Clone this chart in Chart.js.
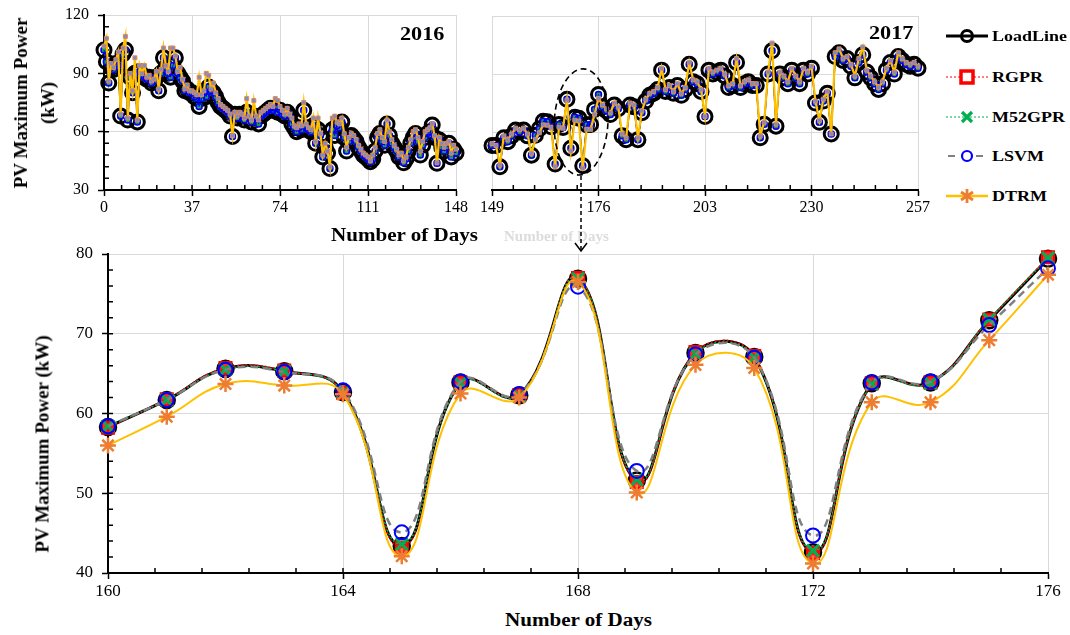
<!DOCTYPE html>
<html>
<head>
<meta charset="utf-8">
<title>PV Maximum Power</title>
<script src="https://cdn.jsdelivr.net/npm/chart.js@4.4.1/dist/chart.umd.min.js"></script>
<style>
  body { margin: 0; width: 1070px; height: 635px; position: relative; overflow: hidden; background: #fff;
         font-family: "Liberation Serif", "Times New Roman", serif; color: #000; }
  canvas { position: absolute; }
  .txt { position: absolute; font-weight: bold; white-space: nowrap; line-height: 20px; }
  .wide { transform: scaleX(1.17); transform-origin: left center; }
  .ytitle { position: absolute; font-weight: bold; font-size: 19px; line-height: 27px; text-align: center;
            white-space: nowrap; transform: translate(-50%, -50%) rotate(-90deg); }
  .legend { position: absolute; left: 944px; top: 0; }
  .legend .row { position: absolute; left: 0; height: 22px; width: 126px; }
  .legend svg { position: absolute; left: 0; top: 0; }
  .legend span { position: absolute; left: 48px; top: 1px; font-weight: bold; font-size: 15px; line-height: 20px;
                 transform: scaleX(1.2); transform-origin: left center; }
  #overlay { position: absolute; left: 0; top: 0; pointer-events: none; }
</style>
</head>
<body>

<canvas id="c2016" width="470" height="215" style="left:0;top:0"></canvas>
<canvas id="c2017" width="464" height="215" style="left:470px;top:0"></canvas>
<canvas id="cZoom" width="1064" height="360" style="left:0;top:240px"></canvas>

<div class="ytitle" style="left:34px;top:103px">PV Maximum Power<br>(kW)</div>
<div class="ytitle" style="left:42px;top:444px">PV Maximum Power (kW)</div>

<div class="txt wide" style="left:400px;top:24px;font-size:19px">2016</div>
<div class="txt wide" style="left:869px;top:23px;font-size:19px">2017</div>
<div class="txt wide" style="left:331px;top:225px;font-size:18px">Number of Days</div>
<div class="txt" style="left:504px;top:226px;font-size:15px;color:#dcdcdc">Number of Days</div>
<div class="txt wide" style="left:505px;top:610px;font-size:18px">Number of Days</div>

<div class="legend">
  <div class="row" style="top:25px">
    <svg width="46" height="22"><line x1="2" y1="11" x2="44" y2="11" stroke="#000" stroke-width="3"/>
      <circle cx="23" cy="11" r="5.5" fill="none" stroke="#000" stroke-width="3"/></svg>
    <span>LoadLine</span></div>
  <div class="row" style="top:66px">
    <svg width="46" height="22"><line x1="2" y1="11" x2="44" y2="11" stroke="#ff0000" stroke-width="1.2" stroke-dasharray="2,2"/>
      <rect x="17" y="5" width="12" height="12" fill="#fff" stroke="#ff0000" stroke-width="3.5"/></svg>
    <span>RGPR</span></div>
  <div class="row" style="top:106px">
    <svg width="46" height="22"><line x1="2" y1="11" x2="44" y2="11" stroke="#00b050" stroke-width="1.2" stroke-dasharray="2,2"/>
      <path d="M18 6 L28 16 M28 6 L18 16" stroke="#00b050" stroke-width="3.2"/></svg>
    <span>M52GPR</span></div>
  <div class="row" style="top:145px">
    <svg width="46" height="22"><line x1="2" y1="11" x2="44" y2="11" stroke="#808080" stroke-width="2" stroke-dasharray="7,7" stroke-dashoffset="-2"/>
      <circle cx="23" cy="11" r="5" fill="#fff" stroke="#0000ff" stroke-width="2.2"/></svg>
    <span>LSVM</span></div>
  <div class="row" style="top:185px">
    <svg width="46" height="22"><line x1="2" y1="11" x2="44" y2="11" stroke="#ffc000" stroke-width="2.5"/>
      <path d="M23 4 L23 18 M17 7 L29 15 M29 7 L17 15" stroke="#ed7d31" stroke-width="2.8"/></svg>
    <span>DTRM</span></div>
</div>

<svg id="overlay" width="1070" height="635">
  <line x1="581" y1="176" x2="581" y2="251" stroke="#000" stroke-width="1.5" stroke-dasharray="4,3"/>
  <polyline points="575,243 581,251 587,243" fill="none" stroke="#000" stroke-width="1.5"/>
</svg>

<script>
// ---------- data ----------
const FIRST_DAY_2016 = 0;
const FIRST_DAY_2017 = 149;

const DAY_TICKS_2016 = [0, 37, 74, 111, 148];
const DAY_TICKS_2017 = [149, 176, 203, 230, 257];
const KW_TICKS_TOP = [30, 60, 90, 120];
const DAY_TICKS_ZOOM = [160, 164, 168, 172, 176];
const KW_TICKS_ZOOM = [40, 50, 60, 70, 80];

// measured load, days 0..148 (2016)
const load2016 = [
  102, 96, 85, 93, 92, 95, 94, 68, 100, 102, 66, 88, 80, 90, 65, 91, 89, 88, 87, 88,
  85, 86, 88, 81, 90, 98, 93, 90, 88, 94, 98, 90, 88, 86, 81, 82, 80, 80, 78, 77,
  73, 77, 80, 78, 83, 81, 80, 78, 75, 73, 72, 71, 70, 68, 57.5, 69, 67, 69, 68, 66,
  70, 67, 65, 68, 67, 64, 68, 69, 70, 71, 72, 71, 72, 70, 71, 69, 68, 70, 68, 64,
  62, 60, 62, 61, 71, 62, 61, 60, 63, 54, 61, 58, 47, 52, 49, 41, 61, 58, 63, 62,
  65, 57, 50, 55, 58, 56.5, 55, 52, 50, 48, 47, 46, 44.5, 46, 50, 57, 59, 55, 53, 64,
  58, 54, 52, 50, 47, 48, 44, 46, 50, 54, 57, 59, 55, 48, 53, 57, 59, 60, 63.4, 57,
  43.7, 55.7, 52, 50, 52, 54, 47, 51, 49
];
// DTRM estimate, days 0..148 (2016)
const dtrm2016 = [
  104, 108, 86, 95, 93, 97, 101, 69, 103, 109, 67, 90, 81, 98, 66, 94, 90, 94, 88, 89,
  86, 87, 91, 82, 92, 103, 94, 91, 103, 103, 99, 91, 93, 87, 82, 84, 81, 81, 80, 79,
  88, 79, 81, 90, 89, 82, 85, 80, 77, 74, 73, 72, 71, 69, 58, 70, 68, 70, 69, 67,
  77, 68, 66, 76, 68, 66, 70, 71, 72, 73, 74, 73, 77, 76, 73, 71, 69, 72, 69, 67,
  63, 62, 64, 63, 75, 64, 62, 61, 67, 55, 67, 59, 48, 54, 50, 42, 67, 68, 65, 64,
  67, 59, 52, 57, 59, 58, 56, 53, 51, 49, 48, 47, 45, 48, 52, 59, 61, 57, 55, 66,
  60, 56, 53, 51, 48, 49, 45, 47, 52, 56, 60, 61, 57, 50, 55, 60, 61, 62, 64, 58,
  44, 57, 54, 52, 54, 55, 49, 53, 51
];
// measured load, days 149..257 (2017)
const load2017 = [
  53, 53, 42, 57, 55, 58, 61, 60, 61, 58, 48, 58.3, 61.7, 65.6, 65.3, 62.7, 43.4, 63.9, 62.3, 76.9,
  51.6, 67.6, 67.1, 42.6, 63.8, 63.9, 71.7, 79.4, 73, 71, 69, 74, 72, 58, 56, 74, 73, 56, 70, 76,
  79, 80, 82, 92, 81, 83, 80, 84, 79, 82, 95, 86, 85, 81, 68, 92, 90, 91, 92, 89,
  83, 84, 96, 83, 85, 86, 84, 84, 57, 64, 90, 102, 63, 90, 88, 85, 92, 88, 85, 92,
  90, 93, 75, 65, 76, 80, 59, 99, 101, 97, 98, 94, 88, 96, 100, 91, 88, 85, 82, 85,
  92, 96, 90, 99, 97, 95, 94, 95, 93
];
// DTRM estimate, days 149..257 (2017)
const dtrm2017 = [
  54, 53, 43, 58, 56, 59, 62, 61, 62, 59, 49, 56, 59.6, 63.7, 63.5, 62.4, 42.1, 62.5, 62, 76.5,
  50.1, 66.1, 65.7, 41.2, 61.4, 61.4, 69.2, 77.4, 74, 72, 70, 75, 73, 59, 57, 75, 74, 57, 71, 77,
  80, 81, 83, 93, 82, 84, 81, 85, 80, 83, 96, 87, 86, 82, 68, 93, 91, 92, 93, 90,
  84, 85, 98, 84, 86, 87, 85, 85, 58, 65, 91, 106, 64, 91, 89, 86, 93, 89, 86, 93,
  91, 94, 76, 66, 77, 81, 59, 101, 103, 98, 99, 95, 89, 98, 104, 92, 89, 86, 83, 86,
  93, 97, 91, 101, 98, 96, 95, 96, 94
];

// zoomed window, days 160..176
const zoomDays = [160, 161, 162, 163, 164, 165, 166, 167, 168, 169, 170, 171, 172, 173, 174, 175, 176];
const loadZoom = [58.3, 61.7, 65.6, 65.3, 62.7, 43.4, 63.9, 62.3, 76.9, 51.6, 67.6, 67.1, 42.6, 63.8, 63.9, 71.7, 79.4];
const rgprZoom = [58.2, 61.8, 65.7, 65.4, 62.6, 43.2, 63.9, 62.3, 77.0, 51.4, 67.7, 67.2, 42.5, 63.8, 63.9, 71.8, 79.6];
const m52Zoom  = [58.4, 61.7, 65.5, 65.3, 62.6, 43.6, 63.8, 62.2, 76.9, 51.7, 67.5, 67.0, 42.8, 63.7, 63.8, 71.8, 79.5];
const lsvmZoom = [58.4, 61.7, 65.5, 65.2, 62.9, 45.1, 64.0, 62.4, 75.9, 52.8, 67.4, 67.0, 44.7, 63.9, 64.0, 71.1, 78.2];
const dtrmZoom = [56.0, 59.6, 63.7, 63.5, 62.4, 42.1, 62.5, 62.0, 76.5, 50.1, 66.1, 65.7, 41.2, 61.4, 61.4, 69.2, 77.4];

// ---------- helpers ----------
const FONT = '"Liberation Serif", "Times New Roman", serif';
const GRID = '#d9d9d9';

const days2016 = load2016.map((_, i) => FIRST_DAY_2016 + i);
const days2017 = load2017.map((_, i) => FIRST_DAY_2017 + i);
const toPts = (days, vals) => vals.map((v, i) => ({ x: days[i], y: v }));

// minor tick positions along an axis (decoration only)
function minorSteps(from, to, step) {
  const out = [];
  for (let v = from + step; v < to - 1e-6; v += step) out.push(v);
  return out;
}

// short inward tick marks that Chart.js has no option for
const minorTickPlugin = {
  id: 'minorTicks',
  beforeDatasetsDraw(chart, args, opts) {
    const { ctx, chartArea: a } = chart;
    ctx.save();
    ctx.strokeStyle = '#000';
    ctx.lineWidth = 1.5;
    ctx.beginPath();
    (opts.x || []).forEach(v => {
      const px = chart.scales.x.getPixelForValue(v);
      ctx.moveTo(px, a.bottom); ctx.lineTo(px, a.bottom - 5);
    });
    (opts.y || []).forEach(v => {
      const py = chart.scales.y.getPixelForValue(v);
      ctx.moveTo(a.left, py); ctx.lineTo(a.left + 5, py);
    });
    ctx.stroke();
    ctx.restore();
  }
};

// dashed ellipse marking the zoomed window in the 2017 panel
const calloutPlugin = {
  id: 'callout',
  afterDatasetsDraw(chart, args, opts) {
    if (!opts.show) return;
    const { ctx } = chart, sx = chart.scales.x, sy = chart.scales.y;
    const cx = sx.getPixelForValue(opts.day), cy = sy.getPixelForValue(opts.kw);
    const rx = Math.abs(sx.getPixelForValue(opts.day + opts.halfDays) - cx);
    const ry = Math.abs(sy.getPixelForValue(opts.kw + opts.halfKw) - cy);
    ctx.save();
    ctx.strokeStyle = '#000';
    ctx.lineWidth = 1.6;
    ctx.setLineDash([6, 4]);
    ctx.beginPath();
    ctx.ellipse(cx, cy, rx, ry, 0.05, 0, Math.PI * 2);
    ctx.stroke();
    ctx.restore();
  }
};

function fixedTicks(list) {
  return scale => { scale.ticks = list.map(v => ({ value: v })); };
}

function topSeries(days, load, dtrm) {
  return [
    { label: 'LoadLine', data: toPts(days, load), order: 5, borderColor: '#000', borderWidth: 1.5,
      pointStyle: 'circle', pointRadius: 7, pointBorderWidth: 3, pointBorderColor: '#000',
      pointBackgroundColor: 'rgba(255,255,255,0)' },
    { label: 'RGPR', data: toPts(days, load), order: 4, borderColor: '#ff0000', borderWidth: 1, borderDash: [2, 2],
      pointStyle: 'rect', pointRadius: 3.5, pointBorderWidth: 1, pointBorderColor: '#ff0000', pointBackgroundColor: '#ff0000' },
    { label: 'M52GPR', data: toPts(days, load), order: 3, borderColor: '#00b050', borderWidth: 1, borderDash: [2, 2],
      pointStyle: 'crossRot', pointRadius: 4, pointBorderWidth: 2, pointBorderColor: '#00b050' },
    { label: 'LSVM', data: toPts(days, load), order: 2, borderColor: '#0000ff', borderWidth: 1,
      pointStyle: 'circle', pointRadius: 3, pointBorderWidth: 1.5, pointBorderColor: '#0000ff',
      pointBackgroundColor: 'rgba(255,255,255,0)' },
    { label: 'DTRM', data: toPts(days, dtrm), order: 1, borderColor: '#ffc000', borderWidth: 2.2,
      pointStyle: 'rect', pointRadius: 2.8, pointBorderWidth: 1, pointBorderColor: '#e8894a',
      pointBackgroundColor: '#6f8fd0' }
  ].map(d => Object.assign(d, { tension: 0, clip: false, fill: false }));
}

function zoomSeries() {
  return [
    { label: 'LoadLine', data: toPts(zoomDays, loadZoom), order: 5, borderColor: '#000', borderWidth: 3,
      pointStyle: 'circle', pointRadius: 8, pointBorderWidth: 2.5, pointBorderColor: '#000',
      pointBackgroundColor: 'rgba(255,255,255,0)' },
    { label: 'RGPR', data: toPts(zoomDays, rgprZoom), order: 4, borderColor: '#ff0000', borderWidth: 1.5, borderDash: [2, 2],
      pointStyle: 'rect', pointRadius: 8.5, pointBorderWidth: 2, pointBorderColor: '#ff0000',
      pointBackgroundColor: 'rgba(255,20,20,0.9)' },
    { label: 'M52GPR', data: toPts(zoomDays, m52Zoom), order: 3, borderColor: '#00b050', borderWidth: 1.5, borderDash: [2, 2],
      pointStyle: 'crossRot', pointRadius: 8.5, pointBorderWidth: 3, pointBorderColor: '#00b050' },
    { label: 'LSVM', data: toPts(zoomDays, lsvmZoom), order: 2, borderColor: '#808080', borderWidth: 2.5, borderDash: [8, 5],
      pointStyle: 'circle', pointRadius: 7, pointBorderWidth: 2, pointBorderColor: '#0000ff',
      pointBackgroundColor: 'rgba(255,255,255,0)' },
    { label: 'DTRM', data: toPts(zoomDays, dtrmZoom), order: 1, borderColor: '#ffc000', borderWidth: 2,
      pointStyle: 'star', pointRadius: 8, pointBorderWidth: 2.5, pointBorderColor: '#ed7d31' }
  ].map(d => Object.assign(d, { tension: 0.45, clip: false, fill: false }));
}

function baseOptions(o) {
  return {
    responsive: false,
    animation: false,
    events: [],
    layout: { padding: o.padding },
    plugins: {
      legend: { display: false },
      tooltip: { enabled: false },
      minorTicks: o.minor,
      callout: o.callout || { show: false }
    },
    scales: {
      x: {
        type: 'linear', min: o.xMin, max: o.xMax,
        afterBuildTicks: fixedTicks(o.xTicks),
        afterFit: s => { s.height = o.xAxisH; },
        grid: { color: GRID, lineWidth: 1, tickColor: '#000', tickLength: 6, tickWidth: 1.5 },
        border: { color: '#000', width: 2 },
        ticks: { font: { family: FONT, size: o.tickSize }, color: '#000', padding: 2, maxRotation: 0 }
      },
      y: {
        type: 'linear', min: o.yMin, max: o.yMax,
        afterBuildTicks: fixedTicks(o.yTicks),
        // fixed axis width; drop the label overhang so the layout padding sets the plot top
        afterFit: s => { s.width = o.yAxisW; s.paddingTop = 0; s.paddingBottom = 0; },
        grid: { color: GRID, lineWidth: 1, tickColor: '#000', tickLength: 6, tickWidth: 1.5, drawTicks: o.yLabels },
        border: { display: o.yLabels, color: '#000', width: 2 },
        ticks: { display: o.yLabels, font: { family: FONT, size: o.tickSize }, color: '#000', padding: 9 }
      }
    }
  };
}

// ---------- 2016 panel ----------
new Chart(document.getElementById('c2016'), {
  type: 'line',
  data: { datasets: topSeries(days2016, load2016, dtrm2016) },
  options: baseOptions({
    padding: { top: 15, right: 14, left: 0, bottom: 0 },
    xMin: 0, xMax: 148, xTicks: DAY_TICKS_2016, xAxisH: 25,
    yMin: 30, yMax: 120, yTicks: KW_TICKS_TOP, yAxisW: 104, yLabels: true,
    tickSize: 16,
    minor: { x: minorSteps(0, 148, 7.4), y: minorSteps(30, 120, 6) }
  }),
  plugins: [minorTickPlugin, calloutPlugin]
});

// ---------- 2017 panel ----------
new Chart(document.getElementById('c2017'), {
  type: 'line',
  data: { datasets: topSeries(days2017, load2017, dtrm2017) },
  options: baseOptions({
    padding: { top: 16, right: 16, left: 0, bottom: 0 },
    xMin: 149, xMax: 257, xTicks: DAY_TICKS_2017, xAxisH: 25,
    yMin: 30, yMax: 120, yTicks: KW_TICKS_TOP, yAxisW: 22, yLabels: false,
    tickSize: 16,
    minor: { x: minorSteps(149, 257, 5.4), y: [] },
    callout: { show: true, day: 171.6, kw: 65.2, halfDays: 6.8, halfKw: 27.5 }
  }),
  plugins: [minorTickPlugin, calloutPlugin]
});

// ---------- zoomed panel, days 160-176 ----------
new Chart(document.getElementById('cZoom'), {
  type: 'line',
  data: { datasets: zoomSeries() },
  options: baseOptions({
    padding: { top: 14, right: 16, left: 0, bottom: 0 },
    xMin: 160, xMax: 176, xTicks: DAY_TICKS_ZOOM, xAxisH: 27,
    yMin: 40, yMax: 80, yTicks: KW_TICKS_ZOOM, yAxisW: 108, yLabels: true,
    tickSize: 17,
    minor: { x: minorSteps(160, 176, 0.8), y: minorSteps(40, 80, 2) }
  }),
  plugins: [minorTickPlugin, calloutPlugin]
});
</script>
</body>
</html>
